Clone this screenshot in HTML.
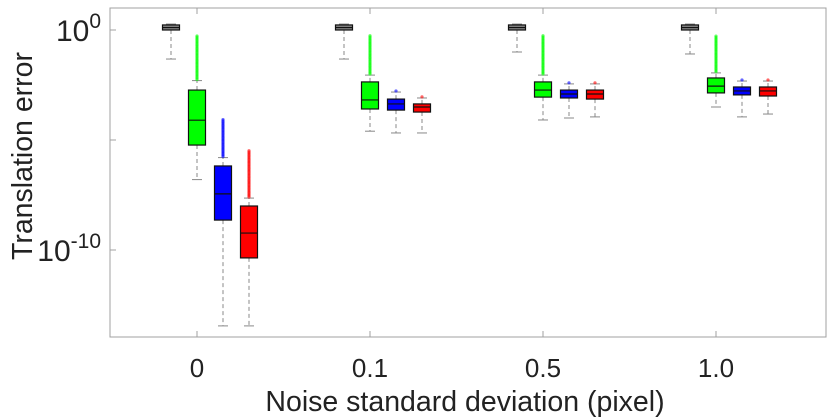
<!DOCTYPE html>
<html><head><meta charset="utf-8"><style>
body{margin:0;background:#fff;}
svg{display:block;font-family:"Liberation Sans",sans-serif;}
</style></head><body>
<svg id="c" width="830" height="417"></svg>
<script>
// values are log10 of translation error
const groups = ["0","0.1","0.5","1.0"];
const methods = ["gray","green","blue","red"];
const colors = ["#808080","#00ff00","#0000ff","#ff0000"];
const q1 = [[0.0,-5.23,-8.64,-10.36],[0.0,-3.59,-3.64,-3.73],[0.0,-3.05,-3.09,-3.14],[0.0,-2.86,-2.95,-3.0]];
const med = [[0.11,-4.1,-7.45,-9.23],[0.11,-3.18,-3.36,-3.5],[0.11,-2.73,-2.91,-2.91],[0.11,-2.55,-2.77,-2.77]];
const q3 = [[0.23,-2.73,-6.18,-8.0],[0.23,-2.36,-3.14,-3.36],[0.23,-2.36,-2.73,-2.73],[0.23,-2.18,-2.59,-2.59]];
const wLow = [[-1.32,-6.8,-13.45,-13.45],[-1.32,-4.6,-4.68,-4.68],[-1.0,-4.09,-4.0,-3.95],[-1.09,-3.5,-3.95,-3.82]];
const wHigh = [[0.27,-2.3,-5.8,-7.64],[0.27,-2.05,-2.82,-3.09],[0.27,-2.05,-2.45,-2.45],[0.27,-1.95,-2.32,-2.32]];
const outMax = [[null,-0.27,-4.05,-5.45],[null,-0.23,-2.73,-3.0],[null,-0.23,-2.36,-2.36],[null,-0.27,-2.23,-2.27]];
const yTicks = [0,-5,-10];
const yTickLabels = ["0","","-10"];

const NS="http://www.w3.org/2000/svg";
const svg=document.getElementById('c');
const L=110,R=826,T=8,B=337;
const y=v=>30-22*v;
const gx=i=>197+173*i;
const off=[-26,0,26,52], bw=17;
function el(t,a,p){const e=document.createElementNS(NS,t);for(const k in a)e.setAttribute(k,a[k]);(p||svg).appendChild(e);return e;}
const frame=el('rect',{x:L,y:T,width:R-L,height:B-T,fill:'none',stroke:'#a0a0a0','stroke-width':1});


yTicks.forEach((t,i)=>{
  const tk=el('line',{x1:L,x2:L+6,y1:y(t),y2:y(t),stroke:'#a0a0a0'});
  
  
  if(yTickLabels[i]!==""){
    const tx=el('text',{x:101,y:y(t)+11,'text-anchor':'end','font-size':30,fill:'#222'});
    
    
    tx.innerHTML='10<tspan dy="-13" font-size="21">'+yTickLabels[i]+'</tspan>';
  }
});
groups.forEach((g,i)=>{
  const t1=el('line',{x1:gx(i),x2:gx(i),y1:T,y2:T+6,stroke:'#a0a0a0'});
  
  
  const t2=el('line',{x1:gx(i),x2:gx(i),y1:B-6,y2:B,stroke:'#a0a0a0'});
  
  
  const tl=el('text',{x:gx(i),y:377,'text-anchor':'middle','font-size':26,fill:'#222'});
  tl.textContent=g;
  
  
  methods.forEach((m,j)=>{
    const cx=gx(i)+off[j];
    const grp=el('g',{});
    
    
    const ds={stroke:'#888','stroke-dasharray':'4,3','stroke-width':1};
    el('line',Object.assign({x1:cx,x2:cx,y1:y(q1[i][j]),y2:y(wLow[i][j])},ds),grp);
    el('line',Object.assign({x1:cx,x2:cx,y1:y(q3[i][j]),y2:y(wHigh[i][j])},ds),grp);
    el('line',{x1:cx-5,x2:cx+5,y1:y(wLow[i][j]),y2:y(wLow[i][j]),stroke:'#888'},grp);
    el('line',{x1:cx-5,x2:cx+5,y1:y(wHigh[i][j]),y2:y(wHigh[i][j]),stroke:'#888'},grp);
    if(outMax[i][j]!==null){
      for(let v=wHigh[i][j]+0.05; v<=outMax[i][j]+0.001; v+=0.06){
        el('circle',{cx:cx,cy:y(v),r:1.6,fill:colors[j],'fill-opacity':0.6},grp);
      }
    }
    el('rect',{x:cx-bw/2,y:y(q3[i][j]),width:bw,height:Math.max(1,y(q1[i][j])-y(q3[i][j])),fill:colors[j],stroke:'#111','stroke-width':1.2},grp);
    el('line',{x1:cx-bw/2,x2:cx+bw/2,y1:y(med[i][j]),y2:y(med[i][j]),stroke:'#111','stroke-width':1.2},grp);
  });
});
const xt=el('text',{x:465,y:411,'text-anchor':'middle','font-size':28.5,fill:'#222'});
xt.textContent='Noise standard deviation (pixel)';


const yt=el('text',{x:32,y:156,'text-anchor':'middle','font-size':28.5,fill:'#222',transform:'rotate(-90 32 156)'});
yt.textContent='Translation error';


</script>
</body></html>
